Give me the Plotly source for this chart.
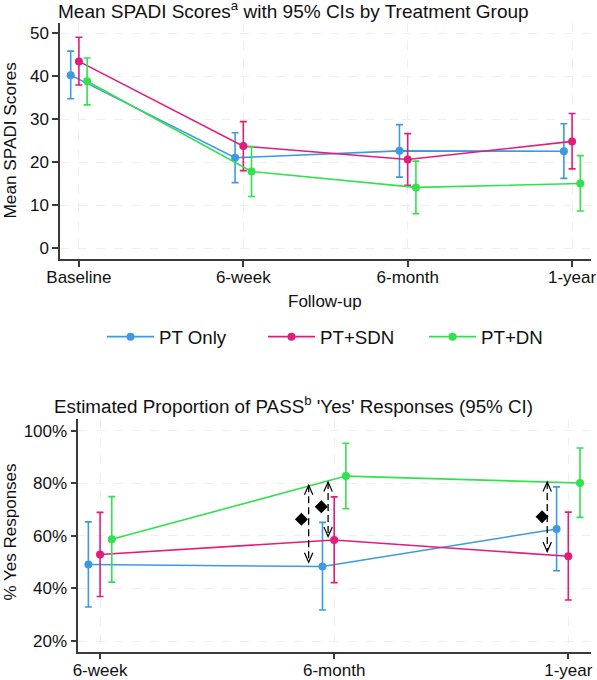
import plotly.graph_objects as go

# ---------------- data ----------------
groups = ["PT Only", "PT+SDN", "PT+DN"]
colors = ["#3d9ae2", "#e31c79", "#33e04e"]
offsets = [-0.05, 0.0, 0.05]

spadi_times = ["Baseline", "6-week", "6-month", "1-year"]
spadi_ticks = [0, 10, 20, 30, 40, 50]
spadi_mean = {
    "PT Only": [40.3, 21.1, 22.7, 22.6],
    "PT+SDN":  [43.5, 23.8, 20.7, 24.9],
    "PT+DN":   [38.9, 17.9, 14.2, 15.1],
}
spadi_lo = {
    "PT Only": [34.8, 15.3, 16.6, 16.3],
    "PT+SDN":  [38.0, 18.1, 14.7, 18.5],
    "PT+DN":   [33.4, 12.1, 8.1, 8.7],
}
spadi_hi = {
    "PT Only": [45.9, 26.9, 28.8, 29.0],
    "PT+SDN":  [49.1, 29.5, 26.7, 31.4],
    "PT+DN":   [44.3, 23.7, 20.3, 21.6],
}

pass_times = ["6-week", "6-month", "1-year"]
pass_ticks = [20, 40, 60, 80, 100]
pass_mean = {
    "PT Only": [49.1, 48.3, 62.6],
    "PT+SDN":  [52.9, 58.4, 52.2],
    "PT+DN":   [58.7, 82.7, 80.1],
}
pass_lo = {
    "PT Only": [32.9, 31.8, 46.7],
    "PT+SDN":  [36.9, 42.2, 35.6],
    "PT+DN":   [42.4, 70.3, 67.0],
}
pass_hi = {
    "PT Only": [65.3, 65.1, 78.6],
    "PT+SDN":  [68.9, 74.8, 69.0],
    "PT+DN":   [74.9, 95.2, 93.4],
}

# significance arrows (bottom panel)
arrow_x = [0.891, 0.974, 1.910]
arrow_top = [79.2, 80.5, 80.5]
arrow_bottom = [49.9, 59.7, 54.0]
diamond_x = [0.860, 0.945, 1.888]
diamond_y = [66.3, 71.0, 67.2]

# ---------------- figure ----------------
W, H = 597, 680
fig = go.Figure()

for g, c, off in zip(groups, colors, offsets):
    xs = [i + off for i in range(len(spadi_times))]
    m = spadi_mean[g]
    fig.add_trace(go.Scatter(
        x=xs, y=m, mode="lines+markers", name=g, legendgroup=g,
        line=dict(color=c, width=1.6), marker=dict(color=c, size=8),
        error_y=dict(type="data", symmetric=False,
                     array=[h - v for h, v in zip(spadi_hi[g], m)],
                     arrayminus=[v - l for l, v in zip(spadi_lo[g], m)],
                     color=c, thickness=1.6, width=3.5),
        xaxis="x", yaxis="y"))

for g, c, off in zip(groups, colors, offsets):
    xs = [i + off for i in range(len(pass_times))]
    m = pass_mean[g]
    fig.add_trace(go.Scatter(
        x=xs, y=m, mode="lines+markers", name=g, legendgroup=g, showlegend=False,
        line=dict(color=c, width=1.6), marker=dict(color=c, size=8),
        error_y=dict(type="data", symmetric=False,
                     array=[h - v for h, v in zip(pass_hi[g], m)],
                     arrayminus=[v - l for l, v in zip(pass_lo[g], m)],
                     color=c, thickness=1.6, width=3.5),
        xaxis="x2", yaxis="y2"))

# dashed arrow shafts
for ax_, t, b in zip(arrow_x, arrow_top, arrow_bottom):
    fig.add_trace(go.Scatter(
        x=[ax_, ax_], y=[t, b], mode="lines", showlegend=False, hoverinfo="skip",
        line=dict(color="black", width=1.3, dash="7px,4px"),
        xaxis="x2", yaxis="y2"))
    # open chevron heads (pixel sized, anchored at the tips)
    fig.add_shape(type="path", xref="x2", yref="y2",
                  xsizemode="pixel", ysizemode="pixel",
                  xanchor=ax_, yanchor=t,
                  path="M -4.2 -9.5 L 0 0 L 4.2 -9.5",
                  line=dict(color="black", width=1.2))
    fig.add_shape(type="path", xref="x2", yref="y2",
                  xsizemode="pixel", ysizemode="pixel",
                  xanchor=ax_, yanchor=b,
                  path="M -4.2 9.5 L 0 0 L 4.2 9.5",
                  line=dict(color="black", width=1.2))

fig.add_trace(go.Scatter(
    x=diamond_x, y=diamond_y, mode="markers", showlegend=False, hoverinfo="skip",
    marker=dict(symbol="diamond", color="black", size=10),
    xaxis="x2", yaxis="y2"))

font_family = "Liberation Sans, Arial, sans-serif"
axis_common = dict(
    showline=True, linecolor="#3a3a3a", linewidth=1.5,
    ticks="outside", ticklen=6, tickcolor="#3a3a3a", tickwidth=1.5,
    showgrid=True, gridcolor="#efefef", griddash="dash", gridwidth=1,
    zeroline=False, tickfont=dict(size=17, color="#111111"),
    automargin=False, tickmode="array",
)

fig.update_layout(
    width=W, height=H,
    margin=dict(l=0, r=0, t=0, b=0, autoexpand=False),
    paper_bgcolor="white", plot_bgcolor="white",
    font=dict(family=font_family, color="#111111"),
    showlegend=True,
    legend=dict(orientation="h", x=102 / W, y=1 - 337 / H, xanchor="left", yanchor="middle",
                font=dict(size=18.7), entrywidth=99, itemwidth=47,
                bgcolor="rgba(0,0,0,0)"),
    xaxis=dict(axis_common, domain=[60 / W, 591 / W], anchor="y",
               range=[-0.115, 3.115], tickvals=list(range(len(spadi_times))),
               ticktext=spadi_times, ticklabelstandoff=-4),
    yaxis=dict(axis_common, domain=[1 - 259 / H, 1 - 22.7 / H], anchor="x",
               range=[-2.45, 52.5], tickvals=spadi_ticks,
               ticktext=[str(v) for v in spadi_ticks]),
    xaxis2=dict(axis_common, domain=[78.3 / W, 591 / W], anchor="y2",
                range=[-0.093, 2.097], tickvals=list(range(len(pass_times))),
                ticktext=pass_times, ticklabelstandoff=-4),
    yaxis2=dict(axis_common, domain=[1 - 651.7 / H, 1 - 419.3 / H], anchor="x2",
                range=[15.93, 104.3], tickvals=pass_ticks,
                ticktext=[f"{v}%" for v in pass_ticks]),
)

ann = [
    dict(text="Mean SPADI Scores<sup>a</sup> with 95% CIs by Treatment Group",
         x=293 / W, y=1 - 10.5 / H, font=dict(size=19)),
    dict(text="Estimated Proportion of PASS<sup>b</sup> 'Yes' Responses (95% CI)",
         x=293 / W, y=1 - 405 / H, font=dict(size=18.8)),
    dict(text="Mean SPADI Scores", x=9.5 / W, y=1 - 141 / H, textangle=-90, font=dict(size=17.2)),
    dict(text="% Yes Responses", x=9.5 / W, y=1 - 532 / H, textangle=-90, font=dict(size=17)),
    dict(text="Follow-up", x=325 / W, y=1 - 301 / H, font=dict(size=17)),
]
for a in ann:
    fig.add_annotation(xref="paper", yref="paper", showarrow=False,
                       xanchor="center", yanchor="middle", **a)

fig.write_html("out.html", config={"displayModeBar": False},
               post_script="document.body.style.margin='0';")
